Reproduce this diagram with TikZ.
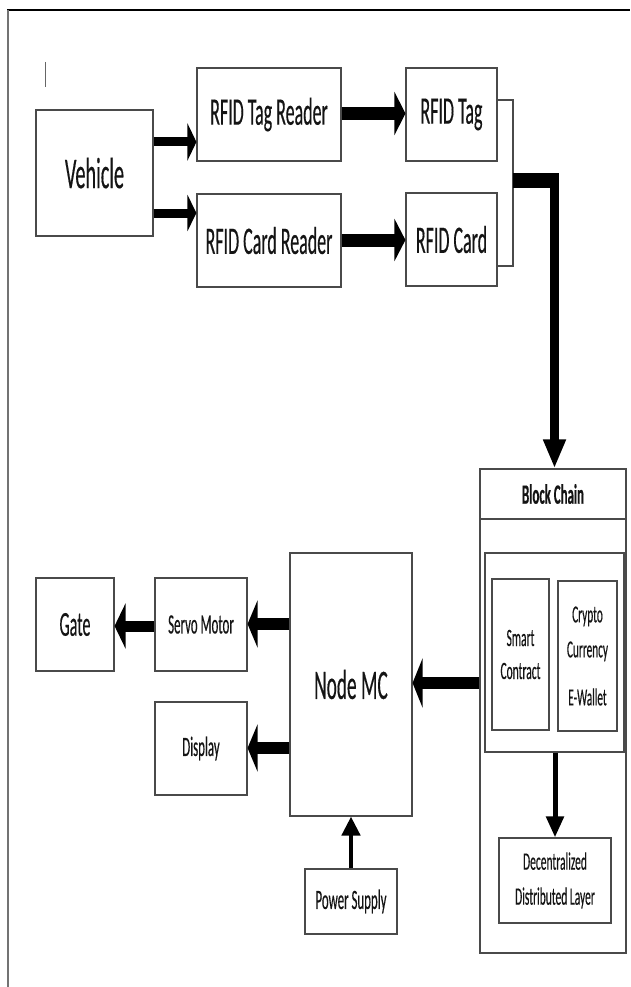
\documentclass[tikz,border=0pt]{standalone}
\usepackage{fontspec}
\newfontfamily\cf[FakeStretch=0.46,FakeBold=0.3]{Carlito}
\usetikzlibrary{arrows.meta}
\definecolor{boxc}{HTML}{4A4A4A}
\definecolor{txtc}{HTML}{141414}
\tikzset{
  box/.style={draw=boxc, line width=1.1pt, inner sep=0pt, text=txtc, align=center},
  boxline/.style={draw=boxc, line width=1.1pt},
  barrow/.style n args={3}{line width=#1, -{Triangle[width=#2, length=#3]}},
  fs/.style={font=\cf\fontsize{#1}{#1}\selectfont}
}
\begin{document}
\begin{tikzpicture}[x=1pt,y=-1pt]
\useasboundingbox (0,0) rectangle (630,987);
% frame
\draw[line width=2pt, black] (7,10) -- (630,10);
\draw[line width=1.5pt, black!55] (8,10) -- (8,987);
\draw[line width=0.8pt, black!60] (45,62) -- (45,87);

% helper coordinates
\coordinate (y142) at (0,142);
\coordinate (y213) at (0,213);
\coordinate (y113) at (0,113.5);
\coordinate (y240) at (0,240);
\coordinate (y100) at (0,100);
\coordinate (y266) at (0,266);
\coordinate (y519) at (0,519);
\coordinate (y683) at (0,683);
\coordinate (y624) at (0,624);
\coordinate (y626) at (0,626);
\coordinate (y748) at (0,748);
\coordinate (j1) at (513,181);
\coordinate (j2) at (554.5,181);

% top row
\node[box, fs=44, minimum width=117pt, minimum height=126pt] (veh) at (94.5,173) {Vehicle};
\node[box, fs=39, minimum width=144pt, minimum height=93pt] (tagr) at (269,114.5) {RFID Tag Reader};
\node[box, fs=39, minimum width=144pt, minimum height=93pt] (cardr) at (269,240.5) {RFID Card Reader};
\node[box, fs=39, minimum width=91pt, minimum height=93pt] (tag) at (451.5,114.5) {RFID Tag};
\node[box, fs=39, minimum width=91pt, minimum height=93pt] (card) at (451.5,239.5) {RFID Card};

% block chain
\node[box, minimum width=146pt, minimum height=484pt] (bc) at (553,711) {};
\node[text=txtc, font=\cf\bfseries\fontsize{28}{28}\selectfont] (bct) at (553,494) {Block Chain};
\draw[boxline] (bc.west |- y519) -- (bc.east |- y519);
\node[box, minimum width=139pt, minimum height=199pt] (inner) at (554.5,652.5) {};
\node[box, font=\cf\fontsize{25}{33}\selectfont, minimum width=57pt, minimum height=151pt] (smart) at (520.5,654.5) {Smart\\Contract};
\node[box, font=\cf\fontsize{24.5}{35}\selectfont, minimum width=59pt, minimum height=150pt] (crypto) at (587.5,656) {Crypto\\Currency\\[13pt]E-Wallet};
\node[box, font=\cf\fontsize{25}{35}\selectfont, minimum width=112pt, minimum height=85pt] (dec) at (555,880.5) {Decentralized\\Distributed Layer};

% lower left
\node[box, fs=42, minimum width=122pt, minimum height=263pt] (nmc) at (351,684.5) {Node MC};
\node[box, fs=35, minimum width=78pt, minimum height=93pt] (gate) at (75,624.5) {Gate};
\node[box, fs=28, minimum width=92pt, minimum height=93pt] (servo) at (201,624.5) {Servo Motor};
\node[box, fs=28, minimum width=92pt, minimum height=93pt] (disp) at (201,748.5) {Display};
\node[box, fs=28, minimum width=92pt, minimum height=65pt] (pow) at (351,901.5) {Power Supply};

% arrows top
\draw[barrow={9pt}{37pt}{9pt}] (veh.east |- y142) -- (tagr.west |- y142);
\draw[barrow={9pt}{36pt}{9pt}] (veh.east |- y213) -- (cardr.west |- y213);
\draw[barrow={13pt}{43pt}{11pt}] (tagr.east |- y113) -- (tag.west |- y113);
\draw[barrow={13pt}{42pt}{11pt}] (cardr.east |- y240) -- (card.west |- y240);

% bracket
\draw[boxline] (tag.east |- y100) -- (j1 |- y100) -- (j1 |- y266) -- (card.east |- y266);
\draw[line width=15pt] (j1) -- ([xshift=4.5pt]j2);
\draw[barrow={9pt}{21pt}{29pt}] ([yshift=7.5pt]j2) -- (bc.north -| j2);

% block chain internal arrow
\draw[barrow={5pt}{17pt}{21pt}] (inner.south -| dec.north) -- (dec.north);

% lower arrows
\draw[barrow={12.5pt}{49pt}{10pt}] (bc.west |- y683) -- (nmc.east |- y683);
\draw[barrow={12pt}{47pt}{10pt}] (nmc.west |- y624) -- (servo.east |- y624);
\draw[barrow={11pt}{45pt}{11pt}] (servo.west |- y626) -- (gate.east |- y626);
\draw[barrow={12pt}{47pt}{10pt}] (nmc.west |- y748) -- (disp.east |- y748);
\draw[barrow={4.5pt}{18pt}{19pt}] (pow.north) -- (nmc.south);
\end{tikzpicture}
\end{document}
